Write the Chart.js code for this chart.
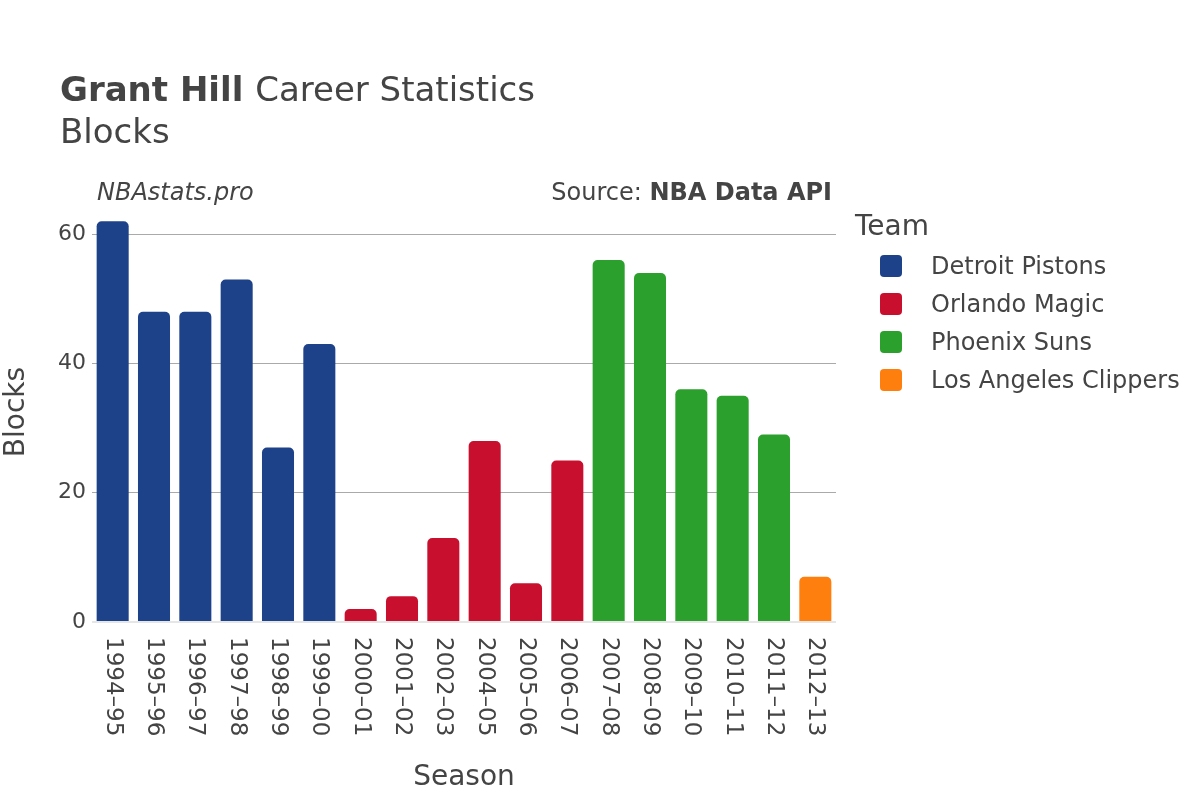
<!DOCTYPE html>
<html>
<head>
<meta charset="utf-8">
<title>Grant Hill Career Statistics - Blocks</title>
<script src="https://cdn.jsdelivr.net/npm/chart.js@4"></script>
<style>
  html, body { margin: 0; padding: 0; background: #fff; }
  #chart { display: block; }
</style>
</head>
<body>
<canvas id="chart" width="1200" height="800"></canvas>
<script>
// data
const seasons = ["1994–95", "1995–96", "1996–97", "1997–98", "1998–99", "1999–00",
  "2000–01", "2001–02", "2002–03", "2004–05", "2005–06", "2006–07",
  "2007–08", "2008–09", "2009–10", "2010–11", "2011–12", "2012–13"];
const teams = ["Detroit Pistons", "Orlando Magic", "Phoenix Suns", "Los Angeles Clippers"];
const teamColors = ["#1d428a", "#c8102e", "#2ca02c", "#ff7f0e"];
const seasonTeam = [0, 0, 0, 0, 0, 0, 1, 1, 1, 1, 1, 1, 2, 2, 2, 2, 2, 3];
const blocks = [62, 48, 48, 53, 27, 43, 2, 4, 13, 28, 6, 25, 56, 54, 36, 35, 29, 7];
const yTicks = [0, 20, 40, 60];

const FONT = "'DejaVu Sans', sans-serif";
const TEXT = "#444";

function teamSeries(t) {
  return blocks.map((v, i) => (seasonTeam[i] === t ? v : null));
}

const textPlugin = {
  id: "texts",
  afterDraw(chart) {
    const c = chart.ctx;
    const area = chart.chartArea;
    const xs = chart.scales.x;
    c.save();
    c.fillStyle = TEXT;

    // title
    c.textAlign = "left";
    c.textBaseline = "alphabetic";
    c.font = "bold 34px " + FONT;
    c.fillText("Grant Hill", 60, 101);
    const w = c.measureText("Grant Hill ").width;
    c.font = "34px " + FONT;
    c.fillText("Career Statistics", 60 + w, 101);
    c.fillText("Blocks", 60, 143);

    // subtitle row
    c.font = "italic 24px " + FONT;
    c.fillText("NBAstats.pro", 97, 200);
    c.textAlign = "right";
    c.font = "bold 24px " + FONT;
    c.fillText("NBA Data API", 832, 200);
    const bw = c.measureText("NBA Data API").width;
    c.font = "24px " + FONT;
    c.fillText("Source: ", 832 - bw, 200);

    // x tick labels, rotated to read downward
    c.font = "23px " + FONT;
    c.textAlign = "left";
    c.textBaseline = "middle";
    seasons.forEach((s, i) => {
      const px = xs.getPixelForTick(i);
      c.save();
      c.translate(px, area.bottom + 15);
      c.rotate(Math.PI / 2);
      c.fillText(s, 0, 0);
      c.restore();
    });

    // axis titles
    c.font = "28px " + FONT;
    c.textAlign = "center";
    c.textBaseline = "middle";
    c.fillText("Season", (area.left + area.right) / 2, 778);
    c.save();
    c.translate(17, (area.top + area.bottom) / 2 + 1);
    c.rotate(-Math.PI / 2);
    c.fillText("Blocks", 0, 0);
    c.restore();

    // legend
    c.textAlign = "left";
    c.textBaseline = "middle";
    c.font = "28px " + FONT;
    c.fillText("Team", 855, 228);
    c.font = "24px " + FONT;
    teams.forEach((t, i) => {
      const cy = 266 + i * 38;
      c.fillStyle = teamColors[i];
      c.beginPath();
      c.roundRect(880, cy - 11, 22, 22, 4);
      c.fill();
      c.fillStyle = TEXT;
      c.fillText(t, 931, cy + 2);
    });
    c.restore();
  }
};

const ctx = document.getElementById("chart");

new Chart(ctx, {
  type: "bar",
  data: {
    labels: seasons,
    datasets: teams.map((t, i) => ({
      label: t,
      data: teamSeries(i),
      backgroundColor: teamColors[i],
      borderRadius: 5,
      borderSkipped: "start",
      categoryPercentage: 1,
      barPercentage: 0.775,
    })),
  },
  options: {
    responsive: false,
    animation: false,
    layout: { padding: { left: 0, top: 200, right: 364, bottom: 0 } },
    plugins: {
      legend: { display: false },
      title: { display: false },
      tooltip: { enabled: false },
    },
    scales: {
      x: {
        stacked: true,
        grid: { display: false },
        border: { display: false },
        ticks: { display: false },
        afterFit(scale) { scale.height = 178; },
      },
      y: {
        stacked: true,
        min: 0,
        max: 65.3,
        border: { display: false },
        grid: {
          drawTicks: false,
          color: (c) => (c.tick && c.tick.value === 0 ? "#e6e6e6" : "#aaaaaa"),
          lineWidth: (c) => (c.tick && c.tick.value === 0 ? 2 : 1),
        },
        afterBuildTicks(scale) {
          scale.ticks = yTicks.map((v) => ({ value: v }));
        },
        ticks: {
          padding: 6,
          color: TEXT,
          font: { family: FONT, size: 22 },
        },
        afterFit(scale) { scale.width = 92; },
      },
    },
  },
  plugins: [textPlugin],
});
</script>
</body>
</html>
